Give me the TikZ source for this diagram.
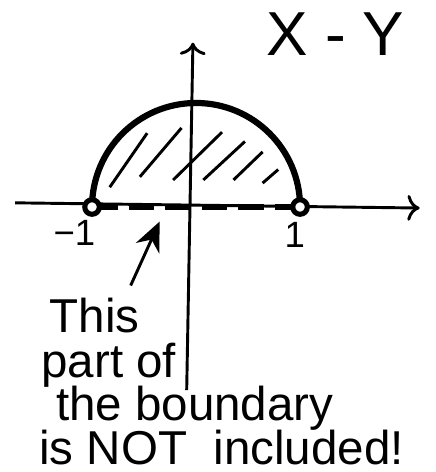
\documentclass[tikz,border=0pt]{standalone}
\usepackage{fontspec}
\setmainfont{Liberation Sans}
\usetikzlibrary{arrows.meta}

\begin{document}
\begin{tikzpicture}[line width=0.8pt,
  hand/.style={font=\fontsize{13}{14}\selectfont, inner sep=0pt},
  tick/.style={font=\fontsize{10}{12}\selectfont, inner sep=0pt},
  endpt/.style={circle, draw, fill=white, line width=1.4pt, inner sep=0pt, minimum size=0.14cm}]
\useasboundingbox (-1.885,-2.548) rectangle (2.298,1.990);
{
% axes
\draw[->] (-1.74,0.04) -- (2.15,-0.01);
\draw[->] (-0.09,-1.76) -- (-0.03,1.58);
% hatching
\foreach \a/\b/\c/\d in {-0.83/0.19/-0.47/0.71, -0.54/0.29/-0.14/0.76, -0.22/0.26/0.25/0.72,
                         0.07/0.26/0.47/0.63, 0.36/0.26/0.64/0.53, 0.64/0.23/0.79/0.36}{
\draw (\a,\b) -- (\c,\d);
}
\draw[line width=1.7pt] (-1,0) arc (180:0:1);
\draw[line width=1.7pt, dash pattern=on 7pt off 3pt] (-1,0) -- (1,0);
\node[endpt] (m) at (-1,0) {};
\node[endpt] (p) at (1,0) {};
\node[tick] (lm) at (-1.17,-0.25) {−1};
\node[tick] (lp) at (0.95,-0.27) {1};
\node[font=\fontsize{17}{20}\selectfont] (xy) at (1.34,1.66) {X - Y};
% the note
\node[hand, anchor=base west] (t1) at (-1.42,-1.21) {This};
\node[hand, anchor=base west] (t2) at (-1.50,-1.64) {part of};
\node[hand, anchor=base west] (t3) at (-1.36,-2.05) {the boundary};
\node[hand, anchor=base west] (t4) at (-1.52,-2.48) {is NOT\ \ included!};
\coordinate (gap) at (-0.35,-0.14);
\draw[-{Stealth[length=8pt,width=7pt]}] ([xshift=-0.1cm,yshift=0.11cm]t1.north east) -- (gap);
}
\end{tikzpicture}
\end{document}
